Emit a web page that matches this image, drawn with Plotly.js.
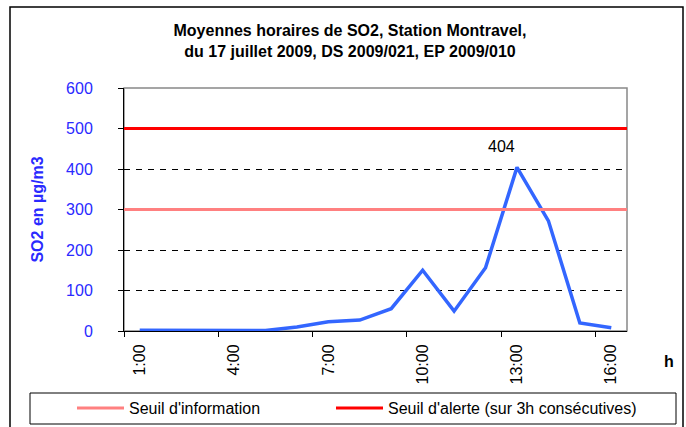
<!DOCTYPE html>
<html>
<head>
<meta charset="utf-8">
<script src="https://cdn.plot.ly/plotly-3.0.1.min.js"></script>
<style>html,body{margin:0;padding:0;background:#fff}#chart{width:686px;height:427px}</style>
</head>
<body>
<div id="chart"></div>
<script>
var hours = ["1:00","2:00","3:00","4:00","5:00","6:00","7:00","8:00","9:00","10:00","11:00","12:00","13:00","14:00","15:00","16:00"];
var so2 = [2, 2, 0, 1, 1, 10, 23, 27, 55, 150, 49, 156, 404, 272, 20, 8];
var seuilInformation = [300, 300];
var seuilAlerte = [500, 500];
var labelStep = 3;
var peakLabel = "404";

var idx = hours.map(function(_, i){ return i; });
var xEnds = [-0.5, hours.length - 0.5];
var labelVals = idx.filter(function(i){ return i % labelStep === 0; });
var labelText = labelVals.map(function(i){ return hours[i]; });
var tickBounds = labelVals.map(function(i){ return i - 0.5; });
var peakIdx = so2.indexOf(Math.max.apply(null, so2));

var FONT = "Liberation Sans, Arial, sans-serif";
var W = 686, H = 427, L = 124, R = 59, T = 88, B = 96;
var PW = W - L - R, PH = H - T - B;
function px(x){ return (x - L) / PW; }
function py(y){ return (H - B - y) / PH; }

var traces = [
  {x: idx, y: so2, type: "scatter", mode: "lines", line: {color: "#3366ff", width: 3.5}, showlegend: false, hoverinfo: "x+y"},
  {x: xEnds, y: seuilInformation, type: "scatter", mode: "lines", name: "Seuil d'information", legend: "legend", line: {color: "#ff8080", width: 3}},
  {x: xEnds, y: seuilAlerte, type: "scatter", mode: "lines", name: "Seuil d'alerte (sur 3h consécutives)", legend: "legend2", line: {color: "#ff0000", width: 3}},
  {x: tickBounds, y: tickBounds.map(function(){return null;}), xaxis: "x2", type: "scatter", mode: "lines", showlegend: false, hoverinfo: "skip"}
];

function legendAt(xpx){
  return {
    orientation: "h", xref: "container", yref: "container",
    x: xpx / W, xanchor: "left", y: 1 - 408/H, yanchor: "middle",
    bgcolor: "rgba(0,0,0,0)", borderwidth: 0, font: {family: FONT, size: 16, color: "#000"},
    itemwidth: 47
  };
}

var layout = {
  width: W, height: H,
  margin: {l: L, r: R, t: T, b: B},
  paper_bgcolor: "#fff", plot_bgcolor: "#fff",
  font: {family: FONT, size: 16, color: "#000"},
  title: {
    text: "<b>Moyennes horaires de SO2, Station Montravel,<br>du 17 juillet 2009, DS 2009/021, EP 2009/010</b>",
    font: {family: FONT, size: 16, color: "#000"},
    x: 350/W, xanchor: "center", y: 1 - 36/H, yanchor: "top"
  },
  xaxis: {
    type: "linear", range: xEnds, tickvals: labelVals, ticktext: labelText,
    tickangle: -90, ticks: "", showgrid: false, zeroline: false,
    showline: true, linecolor: "#000", linewidth: 1,
    tickfont: {family: FONT, size: 16, color: "#000"}, ticklabelstandoff: 6
  },
  xaxis2: {
    type: "linear", range: xEnds, overlaying: "x", tickvals: tickBounds,
    ticks: "outside", ticklen: 5, tickcolor: "#000", showticklabels: false,
    showgrid: false, zeroline: false, showline: false
  },
  yaxis: {
    range: [0, 600], dtick: 100, tick0: 0,
    ticks: "outside", ticklen: 5, tickcolor: "#000",
    showline: true, linecolor: "#000", linewidth: 1,
    showgrid: true, gridcolor: "#000", gridwidth: 1, griddash: "6px,6px",
    zeroline: false,
    tickfont: {family: FONT, size: 16, color: "#2a2aff"}, ticklabelstandoff: 22,
    title: {text: "<b>SO2 en µg/m3</b>", font: {family: FONT, size: 16, color: "#2a2aff"}, standoff: 18}
  },
  showlegend: true,
  legend: legendAt(72),
  legend2: legendAt(331),
  shapes: [
    {type: "rect", xref: "paper", yref: "paper", x0: 0, x1: 1, y0: 0, y1: 1, line: {color: "#888", width: 1.5}, fillcolor: "rgba(0,0,0,0)", layer: "between"},
    {type: "rect", xref: "paper", yref: "paper", x0: px(30), x1: px(676), y0: py(424), y1: py(393), line: {color: "#000", width: 1}, fillcolor: "rgba(0,0,0,0)"},
    {type: "rect", xref: "paper", yref: "paper", x0: px(10), x1: px(683), y0: py(440), y1: py(7), line: {color: "#000", width: 1.5}, fillcolor: "rgba(0,0,0,0)"}
  ],
  annotations: [
    {x: peakIdx, y: so2[peakIdx], xref: "x", yref: "y", text: peakLabel, showarrow: false, xshift: -15, yshift: 21, font: {family: FONT, size: 16, color: "#000"}},
    {x: px(669), y: py(361), xref: "paper", yref: "paper", xanchor: "center", yanchor: "middle", text: "<b>h</b>", showarrow: false, font: {family: FONT, size: 16, color: "#000"}}
  ]
};

Plotly.newPlot("chart", traces, layout, {displayModeBar: false, staticPlot: true});
</script>
</body>
</html>
